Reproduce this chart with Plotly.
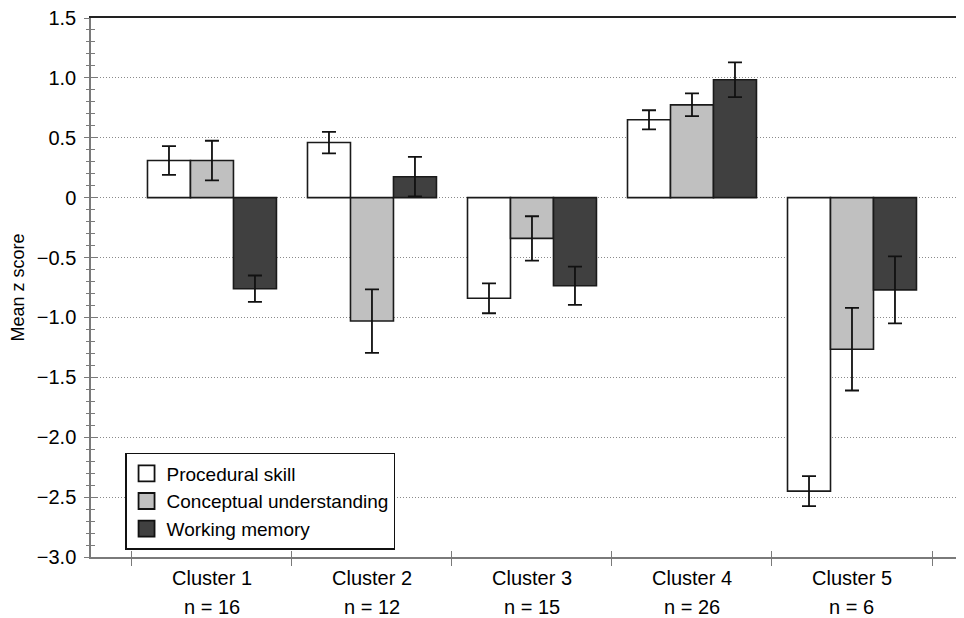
import plotly.graph_objects as go

clusters = ["Cluster 1", "Cluster 2", "Cluster 3", "Cluster 4", "Cluster 5"]
n_values = [16, 12, 15, 26, 6]
series_names = ["Procedural skill", "Conceptual understanding", "Working memory"]
procedural = [0.31, 0.46, -0.84, 0.65, -2.45]
procedural_err = [0.12, 0.09, 0.125, 0.08, 0.125]
conceptual = [0.31, -1.03, -0.34, 0.775, -1.265]
conceptual_err = [0.165, 0.265, 0.185, 0.095, 0.345]
working = [-0.76, 0.175, -0.735, 0.985, -0.77]
working_err = [0.11, 0.165, 0.16, 0.145, 0.28]
y_tickvals = [-3.0, -2.5, -2.0, -1.5, -1.0, -0.5, 0, 0.5, 1.0, 1.5]
y_ticktext = ["\u22123.0", "\u22122.5", "\u22122.0", "\u22121.5", "\u22121.0", "\u22120.5", "0", "0.5", "1.0", "1.5"]

colors = ["#ffffff", "#c0c0c0", "#404040"]
values = [procedural, conceptual, working]
errs = [procedural_err, conceptual_err, working_err]

FONT = "Liberation Sans, Arial, sans-serif"
xpos = list(range(len(clusters)))
XR = [-0.756, 4.7]
YR = [-3.0, 1.5]

fig = go.Figure()
for name, col, v, e in zip(series_names, colors, values, errs):
    fig.add_trace(go.Bar(
        x=xpos, y=v, name=name, showlegend=False,
        marker=dict(color=col, line=dict(color="#1a1a1a", width=1.6)),
        error_y=dict(type="data", array=e, visible=True, color="#111111", thickness=1.8, width=7),
    ))
# legend-only entries
for name, col in zip(series_names, colors):
    fig.add_trace(go.Scatter(
        x=[None], y=[None], mode="markers", name=name,
        marker=dict(symbol="square", size=20, color=col, line=dict(color="#111111", width=1.8)),
    ))
# empty traces so that the overlay axes (crossing ticks, top frame line) get drawn
for xa, ya in [("x2", "y"), ("x3", "y"), ("x", "y2")]:
    fig.add_trace(go.Scatter(x=[None], y=[None], xaxis=xa, yaxis=ya, mode="markers",
                             showlegend=False, hoverinfo="skip"))

boundaries = [i - 0.5 for i in range(len(clusters) + 1)]
axis_gray = "#7a7a7a"

fig.update_layout(
    width=956, height=610,
    margin=dict(l=83, r=0, t=10, b=61),
    paper_bgcolor="white", plot_bgcolor="white",
    font=dict(family=FONT, size=20, color="black"),
    barmode="group", bargap=0.194, bargroupgap=0,
    showlegend=True,
    legend=dict(x=0.039, y=0.193, xanchor="left", yanchor="top",
                bordercolor="#111111", borderwidth=1.5, bgcolor="white",
                font=dict(family=FONT, size=19, color="black"),
                tracegroupgap=0, itemsizing="trace"),
    xaxis=dict(range=XR, tickmode="array", tickvals=boundaries, showticklabels=False,
               ticks="outside", ticklen=7, tickwidth=1.2, tickcolor=axis_gray,
               showline=True, linecolor=axis_gray, linewidth=1.5,
               showgrid=False, zeroline=False, fixedrange=True),
    xaxis2=dict(range=XR, overlaying="x", anchor="y", side="bottom", tickmode="array",
                tickvals=boundaries, showticklabels=False, ticks="inside", ticklen=6,
                tickwidth=1.2, tickcolor=axis_gray, showline=False, showgrid=False, zeroline=False),
    xaxis3=dict(range=XR, overlaying="x", anchor="y", side="top", showticklabels=False,
                ticks="", showline=True, linecolor="#222222", linewidth=1.6,
                showgrid=False, zeroline=False),
    yaxis=dict(range=YR, tickmode="array", tickvals=y_tickvals, ticktext=y_ticktext,
               ticks="outside", ticklen=5, tickwidth=1.2, tickcolor=axis_gray,
               minor=dict(ticks="outside", ticklen=3, tickwidth=1.2, tickcolor=axis_gray,
                          tickmode="linear", tick0=0, dtick=0.1, showgrid=False),
               showline=True, linecolor=axis_gray, linewidth=1.5,
               showgrid=True, gridcolor="#8a8a8a", griddash="1px,2px", gridwidth=1,
               zeroline=False, ticklabelstandoff=4, ticklabeloverflow="allow",
               title=dict(text="Mean z score", font=dict(family=FONT, size=18), standoff=8),
               tickfont=dict(family=FONT, size=20)),
    yaxis2=dict(range=YR, overlaying="y", anchor="x", side="left", tickmode="array",
                tickvals=y_tickvals, showticklabels=False, ticks="inside", ticklen=7,
                tickwidth=1.2, tickcolor=axis_gray,
                minor=dict(ticks="inside", ticklen=4, tickwidth=1.2, tickcolor=axis_gray,
                           tickmode="linear", tick0=0, dtick=0.1, showgrid=False),
                showline=False, showgrid=False, zeroline=False),
)

annotations = []
for i, (c, n) in enumerate(zip(clusters, n_values)):
    annotations.append(dict(x=i, xref="x", y=0, yref="paper", text=c, showarrow=False,
                            yanchor="middle", yshift=-21, font=dict(family=FONT, size=20)))
    annotations.append(dict(x=i, xref="x", y=0, yref="paper", text=f"n = {n}", showarrow=False,
                            yanchor="middle", yshift=-50, font=dict(family=FONT, size=20)))
fig.update_layout(annotations=annotations)

fig.write_html("out.html")
